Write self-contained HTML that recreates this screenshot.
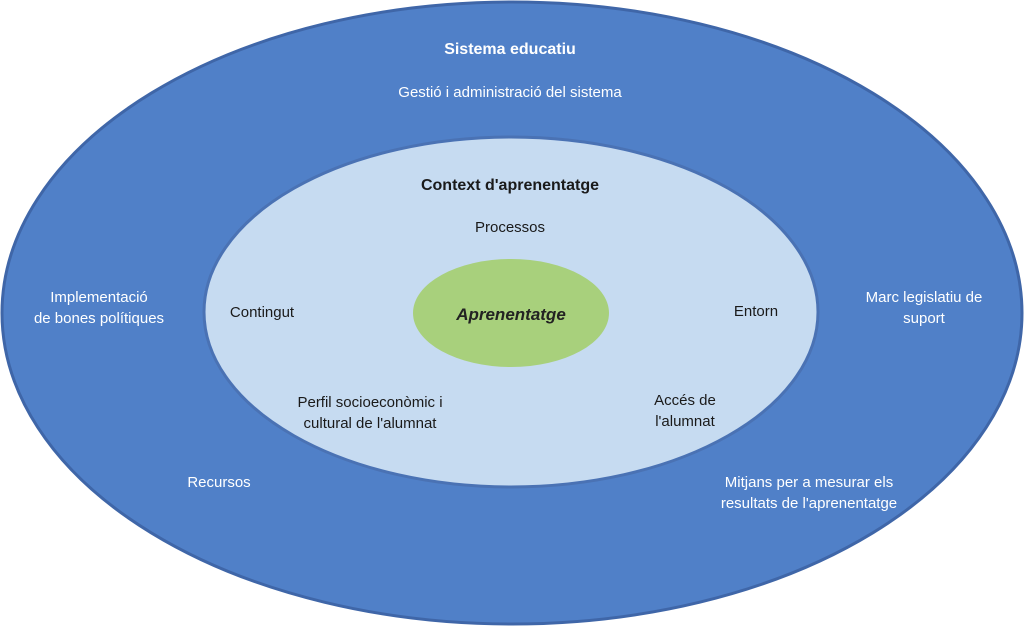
<!DOCTYPE html>
<html><head><meta charset="utf-8"><style>
html,body{margin:0;padding:0;background:#fff;}
svg{display:block;}
text{font-family:"Liberation Sans",sans-serif;}
</style></head><body>
<svg width="1024" height="627" viewBox="0 0 1024 627" xmlns="http://www.w3.org/2000/svg">
<ellipse cx="512" cy="313" rx="510" ry="311" fill="#5080c8" stroke="#3f66a8" stroke-width="3"/>
<ellipse cx="511" cy="312" rx="307" ry="175" fill="#c6dbf1" stroke="#4a72b4" stroke-width="3"/>
<ellipse cx="511" cy="313" rx="98" ry="54" fill="#a8d07c"/>
<g fill="#fff" font-size="15" text-anchor="middle">
<text x="510" y="54" font-weight="bold" font-size="16">Sistema educatiu</text>
<text x="510" y="97">Gestió i administració del sistema</text>
<text x="99" y="302">Implementació</text>
<text x="99" y="323">de bones polítiques</text>
<text x="924" y="302">Marc legislatiu de</text>
<text x="924" y="323">suport</text>
<text x="219" y="487">Recursos</text>
<text x="809" y="487">Mitjans per a mesurar els</text>
<text x="809" y="508">resultats de l'aprenentatge</text>
</g>
<g fill="#1a1a1a" font-size="15" text-anchor="middle">
<text x="510" y="190" font-weight="bold" font-size="16">Context d'aprenentatge</text>
<text x="510" y="232">Processos</text>
<text x="262" y="317">Contingut</text>
<text x="756" y="316">Entorn</text>
<text x="370" y="407">Perfil socioeconòmic i</text>
<text x="370" y="428">cultural de l'alumnat</text>
<text x="685" y="405">Accés de</text>
<text x="685" y="426">l'alumnat</text>
<text x="511" y="320" font-style="italic" font-weight="bold" font-size="17" fill="#222">Aprenentatge</text>
</g>
</svg>
</body></html>
